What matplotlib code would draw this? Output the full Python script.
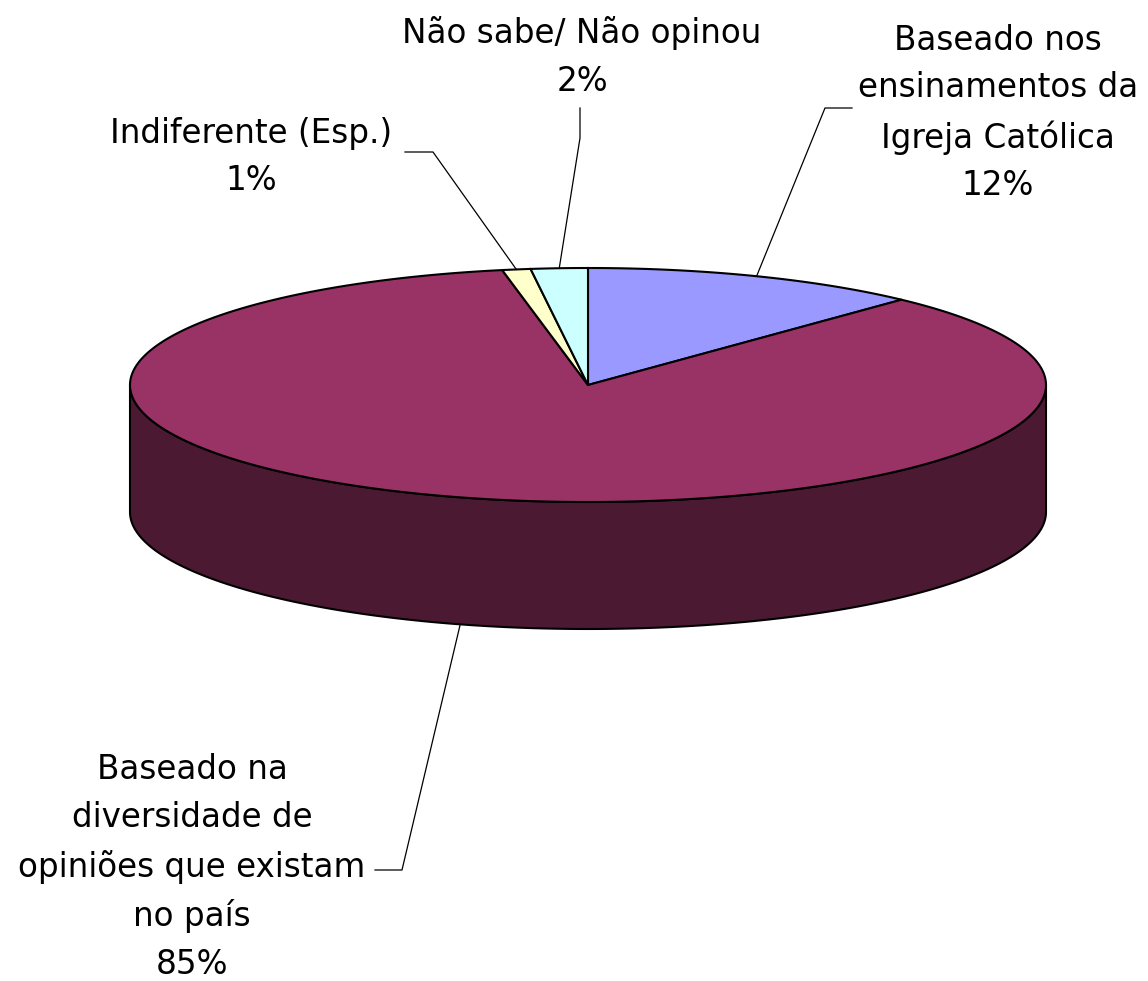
import numpy as np
import matplotlib.pyplot as plt
from matplotlib.patches import Polygon

# Data: order is clockwise from 12 o'clock
labels = ['Baseado nos\nensinamentos da\nIgreja Católica',
          'Baseado na\ndiversidade de\nopiniões que existam\nno país',
          'Indiferente (Esp.)',
          'Não sabe/ Não opinou']
values = [12, 85, 1, 2]
colors = ['#9999FF', '#993366', '#FFFFCC', '#CCFFFF']
side_colors = ['#4C4C80', '#4C1933', '#808066', '#668080']

# label placement (center of text block) and leader line vertices
label_pos = [(998, 113), (192, 867), (251, 157), (582, 57)]
leaders = [[(852, 108), (825, 108)],
           [(375, 870), (402, 870)],
           [(405, 152), (433, 152)],
           [(580, 108), (580, 138)]]

# pie geometry in pixel space
cx, cy = 588, 385
rx, ry = 458, 117
depth = 127


def pt(t, dy=0):
    t = np.radians(t)
    return cx + rx * np.cos(t), cy - ry * np.sin(t) + dy


fig = plt.figure(figsize=(11.48, 9.81), dpi=100)
ax = fig.add_axes([0, 0, 1, 1])
ax.set_xlim(0, 1148)
ax.set_ylim(981, 0)
ax.axis('off')

total = sum(values)
starts = []
ends = []
a = 90.0
for v in values:
    starts.append(a)
    a -= v / total * 360
    ends.append(a)

# side walls (front half of the ellipse only)
for s, e, sc in zip(starts, ends, side_colors):
    for k in (-1, 0, 1):
        lo = max(e, k * 360 - 180)
        hi = min(s, k * 360)
        if hi <= lo:
            continue
        t = np.linspace(lo, hi, 200)
        x, y = pt(t)
        x2, y2 = pt(t[::-1], depth)
        poly = Polygon(np.column_stack([np.r_[x, x2], np.r_[y, y2]]),
                       closed=True, facecolor=sc, edgecolor='black',
                       linewidth=1.5, joinstyle='round')
        ax.add_patch(poly)

# top faces
for s, e, c in zip(starts, ends, colors):
    t = np.linspace(s, e, 400)
    x, y = pt(t)
    poly = Polygon(np.column_stack([np.r_[cx, x], np.r_[cy, y]]),
                   closed=True, facecolor=c, edgecolor='black',
                   linewidth=1.5, joinstyle='miter')
    ax.add_patch(poly)

# labels with leader lines
for lab, v, s, e, (lx, ly), ld in zip(labels, values, starts, ends, label_pos, leaders):
    ax.text(lx, ly, lab + '\n' + str(v) + '%', ha='center', va='center',
            multialignment='center', fontsize=23.5, linespacing=1.57,
            family='DejaVu Sans', color='black')
    mid = (s + e) / 2
    if np.sin(np.radians(mid)) < 0:
        px, py = pt(mid, depth)
    else:
        px, py = pt(mid)
    xs = [p[0] for p in ld] + [px]
    ys = [p[1] for p in ld] + [py]
    ax.plot(xs, ys, color='black', linewidth=0.9)

plt.savefig('out.png', dpi=100)
